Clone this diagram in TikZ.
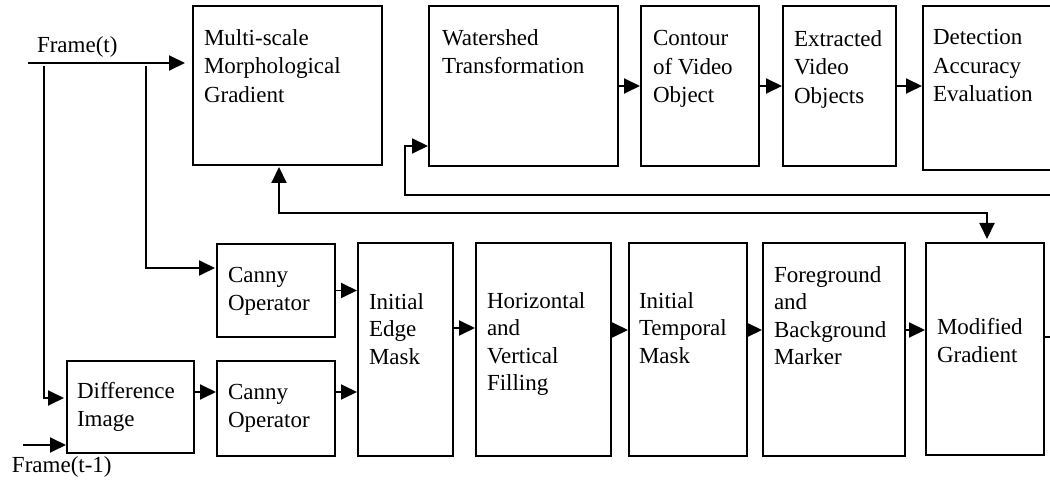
\documentclass[tikz,border=0pt]{standalone}
\usepackage{fontspec}
\setmainfont{Liberation Serif}
\usetikzlibrary{arrows.meta}
\tikzset{
  blk/.style={draw, line width=1.9pt, inner sep=0pt, outer sep=0pt, anchor=north west},
  lbltop/.style={anchor=north west, inner sep=0pt, outer sep=0pt, align=left,
    font=\fontsize{23}{28.5}\selectfont},
  lblbot/.style={lbltop, font=\fontsize{23}{27.5}\selectfont},
  link/.style={line width=1.9pt},
  tip/.style={Triangle[length=16pt,width=15pt]},
  arr/.style={link, -{Triangle[length=16pt,width=15pt]}, shorten >=1pt},
  dblarr/.style={link, {Triangle[length=16pt,width=15pt]}-{Triangle[length=16pt,width=15pt]},
    shorten >=4pt, shorten <=2pt},
}
\begin{document}
\begin{tikzpicture}[x=1pt,y=-1pt]
\clip (0,0) rectangle (1050,481);

% upper row of blocks
\node[blk, minimum width=189pt, minimum height=159pt] (ms) at (193,6) {};
\node[blk, minimum width=189pt, minimum height=160pt] (ws) at (429,6) {};
\node[blk, minimum width=118pt, minimum height=160pt] (co) at (641,6) {};
\node[blk, minimum width=113pt, minimum height=160pt] (ex) at (783,6) {};
\node[blk, minimum width=150pt, minimum height=164pt] (de) at (923,6) {};

% lower row of blocks
\node[blk, minimum width=118pt, minimum height=93pt] (cn1) at (217,244) {};
\node[blk, minimum width=127pt, minimum height=92pt] (di) at (67,361) {};
\node[blk, minimum width=118pt, minimum height=95pt] (cn2) at (217,361) {};
\node[blk, minimum width=95pt, minimum height=213pt] (ie) at (358,243) {};
\node[blk, minimum width=135pt, minimum height=213pt] (hv) at (476,243) {};
\node[blk, minimum width=118pt, minimum height=213pt] (it) at (629,243) {};
\node[blk, minimum width=142pt, minimum height=213pt] (fb) at (763,243) {};
\node[blk, minimum width=118pt, minimum height=212pt] (mg) at (926,243) {};

% block texts
\node[lbltop] (ms-t) at (204,29.5) {Multi-scale\\Morphological\\Gradient};
\node[lbltop] (ws-t) at (442,29.5) {Watershed\\Transformation};
\node[lbltop] (co-t) at (653,30.5) {Contour\\of Video\\Object};
\node[lbltop] (ex-t) at (794,30.5) {Extracted\\Video\\Objects};
\node[lbltop] (de-t) at (933,29.5) {Detection\\Accuracy\\Evaluation};
\node[lblbot] (cn1-t) at (228,267.5) {Canny\\Operator};
\node[lblbot] (di-t) at (77,382.5) {Difference\\Image};
\node[lblbot] (cn2-t) at (228,384.5) {Canny\\Operator};
\node[lblbot] (ie-t) at (369,293.5) {Initial\\Edge\\Mask};
\node[lblbot] (hv-t) at (487,292.5) {Horizontal\\and\\Vertical\\Filling};
\node[lblbot] (it-t) at (639,292.5) {Initial\\Temporal\\Mask};
\node[lblbot] (fb-t) at (774,266.5) {Foreground\\and\\Background\\Marker};
\node[lblbot] (mg-t) at (937,318.5) {Modified\\Gradient};

% input labels
\node[lbltop] (ft-t) at (37,37) {Frame(t)};
\node[lbltop] (ft1-t) at (12,457) {Frame(t-1)};

% inputs
\coordinate (ft) at (28,63);
\coordinate (s1) at (44,66);
\coordinate (s2) at (146,66);
\coordinate (ft1) at (23,445);
\draw[arr, shorten >=8pt] (ft) -- (ft -| ms.west);
\draw[arr, shorten >=3pt] (s1) |- ([yshift=9pt]di.west);
\draw[arr, shorten >=2pt] (s2) |- ([yshift=22.5pt]cn1.west);
\draw[arr] (ft1) -- (ft1 -| di.west);

% lower chain
\draw[arr] ([yshift=15pt]di.east) -- ([yshift=15pt]di.east -| cn2.west);
\draw[arr] (cn1.east) -- (cn1.east -| ie.west);
\draw[arr] ([yshift=16.5pt]cn2.east) -- ([yshift=16.5pt]cn2.east -| ie.west);
\draw[arr] ([yshift=21.5pt]ie.east) -- ([yshift=21.5pt]ie.east -| hv.west);
\draw[arr] ([yshift=19.5pt]hv.east) -- ([yshift=19.5pt]hv.east -| it.west);
\draw[arr] ([yshift=19.5pt]it.east) -- ([yshift=19.5pt]it.east -| fb.west);
\draw[arr] ([yshift=19.5pt]fb.east) -- ([yshift=19.5pt]fb.east -| mg.west);

% upper chain
\draw[arr] (ws.east) -- (ws.east -| co.west);
\draw[arr] (co.east) -- (co.east -| ex.west);
\draw[arr] (ex.east) -- (ex.east -| de.west);

% feedback into the watershed block
\coordinate (fr) at (1052,195);
\coordinate (wsin) at ([yshift=-60pt]ws.west);
\draw[arr] (fr) -| ([xshift=-24pt]wsin) -- (wsin);

% gradient link between the two rows
\draw[dblarr] ([xshift=-8.5pt]ms.south) -- ++(0,48) -| ([xshift=2pt]mg.north);

% output of the modified gradient
\coordinate (out) at (1052,337);
\draw[link] ([yshift=12pt]mg.east) -- (out);
\end{tikzpicture}
\end{document}
